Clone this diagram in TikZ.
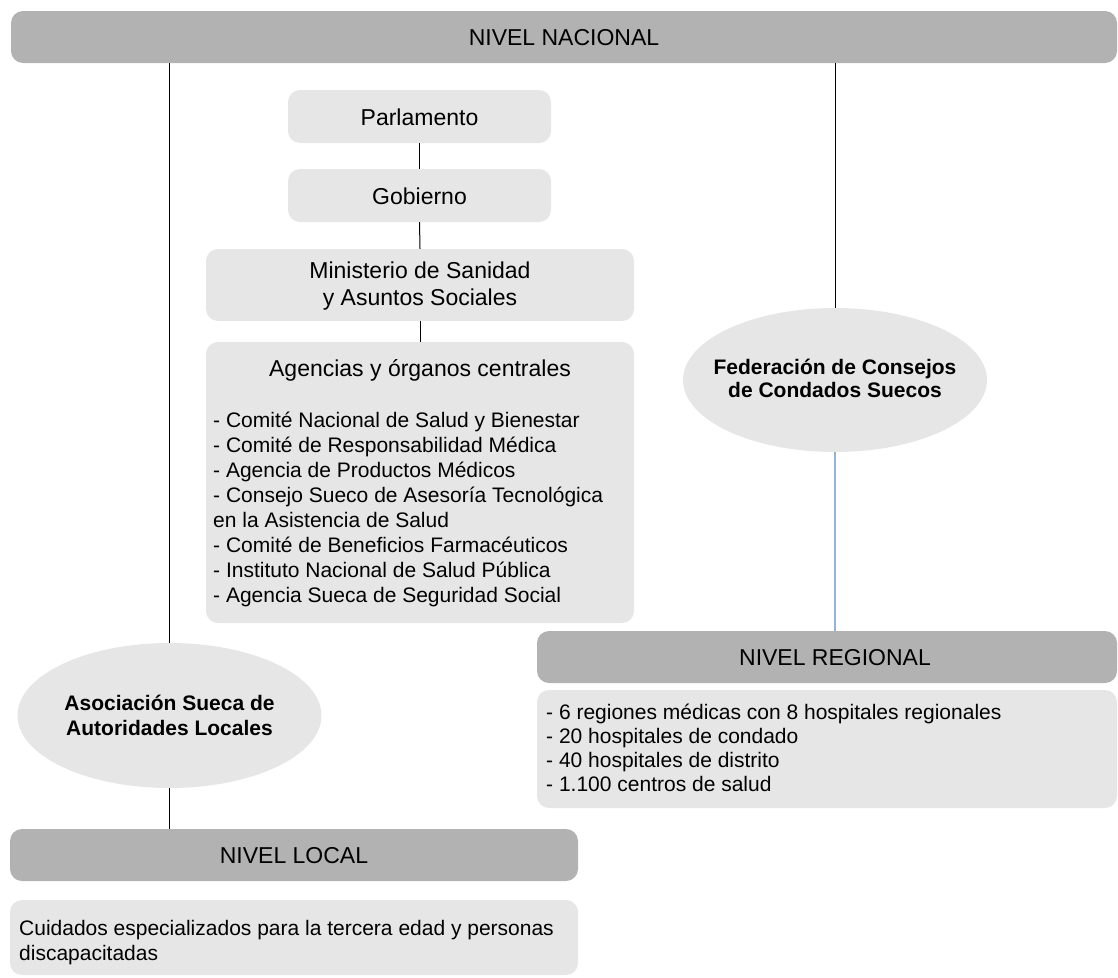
\documentclass[tikz,border=0pt]{standalone}
\usepackage{fontspec}
\setmainfont{Liberation Sans}
\usetikzlibrary{shapes.geometric}
\definecolor{barfill}{RGB}{178,178,178}
\definecolor{boxfill}{RGB}{230,230,230}
\definecolor{bluelink}{RGB}{149,179,215}
\begin{document}
\begin{tikzpicture}[x=1pt,y=-1pt,
  levelbar/.style={fill=barfill, rounded corners=12pt, inner sep=0pt, minimum height=52pt},
  greybox/.style={fill=boxfill, rounded corners=12pt, inner sep=0pt},
  oval/.style={ellipse, fill=boxfill, inner sep=0pt, minimum width=304pt, minimum height=145pt},
  link/.style={draw=black, line width=1pt},
  bluelinkstyle/.style={draw=bluelink, line width=1.3pt},
  hdr/.style={anchor=base, inner sep=0pt, font=\fontsize{23}{27}\selectfont},
  ttl/.style={anchor=base, inner sep=0pt, font=\fontsize{23}{27}\selectfont},
  lst/.style={anchor=base west, inner sep=0pt, font=\fontsize{21}{25}\selectfont},
  ovaltxt/.style={anchor=base, inner sep=0pt, font=\bfseries\fontsize{21}{24}\selectfont},
]
\useasboundingbox (0,0) rectangle (1118,977);

% boxes
\node[levelbar, minimum width=1106pt] (nac) at (564,37) {};
\node[greybox, minimum width=263pt, minimum height=53pt] (parl) at (419.5,116.5) {};
\node[greybox, minimum width=263pt, minimum height=53pt] (gob) at (419.5,195.5) {};
\node[greybox, minimum width=428pt, minimum height=72pt] (min) at (420,285) {};
\node[greybox, minimum width=428pt, minimum height=281pt] (agen) at (420,482.5) {};
\node[oval, minimum width=304pt, minimum height=144pt] (fed) at (835,380) {};
\node[levelbar, minimum width=580pt] (reg) at (827,657) {};
\node[greybox, minimum width=580pt, minimum height=118pt] (regl) at (827,749) {};
\node[oval] (aso) at (169.5,715.5) {};
\node[levelbar, minimum width=568pt] (local) at (294,855) {};
\node[greybox, minimum width=568pt, minimum height=75pt] (cuid) at (294,937.5) {};

% connectors
\draw[link] (aso.north |- nac.south) -- (aso.north);
\draw[link] (fed.north |- nac.south) -- (fed.north);
\draw[link] (parl.south) -- (gob.north);
\draw[link] (gob.south) -- (min.north);
\draw[link] (min.south) -- (agen.north);
\draw[link] (aso.south) -- (aso.south |- local.north);
\draw[bluelinkstyle] (fed.south) -- (fed.south |- reg.north);

% texts
\node[hdr] (tnac) at (564,45) {NIVEL NACIONAL};
\node[ttl] (tparl) at (419.5,125) {Parlamento};
\node[ttl] (tgob) at (419.5,204) {Gobierno};
\node[ttl] (tmin1) at (420,278) {Ministerio de Sanidad};
\node[ttl] (tmin2) at (420,305) {y Asuntos Sociales};
\node[ttl] (tagen) at (420,376) {Agencias y órganos centrales};
\foreach \t [count=\i from 0] in {%
  {- Comité Nacional de Salud y Bienestar},
  {- Comité de Responsabilidad Médica},
  {- Agencia de Productos Médicos},
  {- Consejo Sueco de Asesoría Tecnológica},
  {en la Asistencia de Salud},
  {- Comité de Beneficios Farmacéuticos},
  {- Instituto Nacional de Salud Pública},
  {- Agencia Sueca de Seguridad Social}}
  \node[lst] (al\i) at (213,427.5+25*\i) {\t};

\node[ovaltxt] (tfed1) at (835,374) {Federación de Consejos};
\node[ovaltxt] (tfed2) at (835,397.5) {de Condados Suecos};

\node[hdr] (treg) at (835,665) {NIVEL REGIONAL};
\foreach \t [count=\i from 0] in {%
  {- 6 regiones médicas con 8 hospitales regionales},
  {- 20 hospitales de condado},
  {- 40 hospitales de distrito},
  {- 1.100 centros de salud}}
  \node[lst] (rl\i) at (546,719+24.3*\i) {\t};

\node[ovaltxt] (taso1) at (169.5,710.5) {Asociación Sueca de};
\node[ovaltxt] (taso2) at (169.5,735) {Autoridades Locales};

\node[hdr] (tloc) at (294,863) {NIVEL LOCAL};
\node[lst] (tc1) at (19,935.5) {Cuidados especializados para la tercera edad y personas};
\node[lst] (tc2) at (19,960.5) {discapacitadas};
\end{tikzpicture}
\end{document}
